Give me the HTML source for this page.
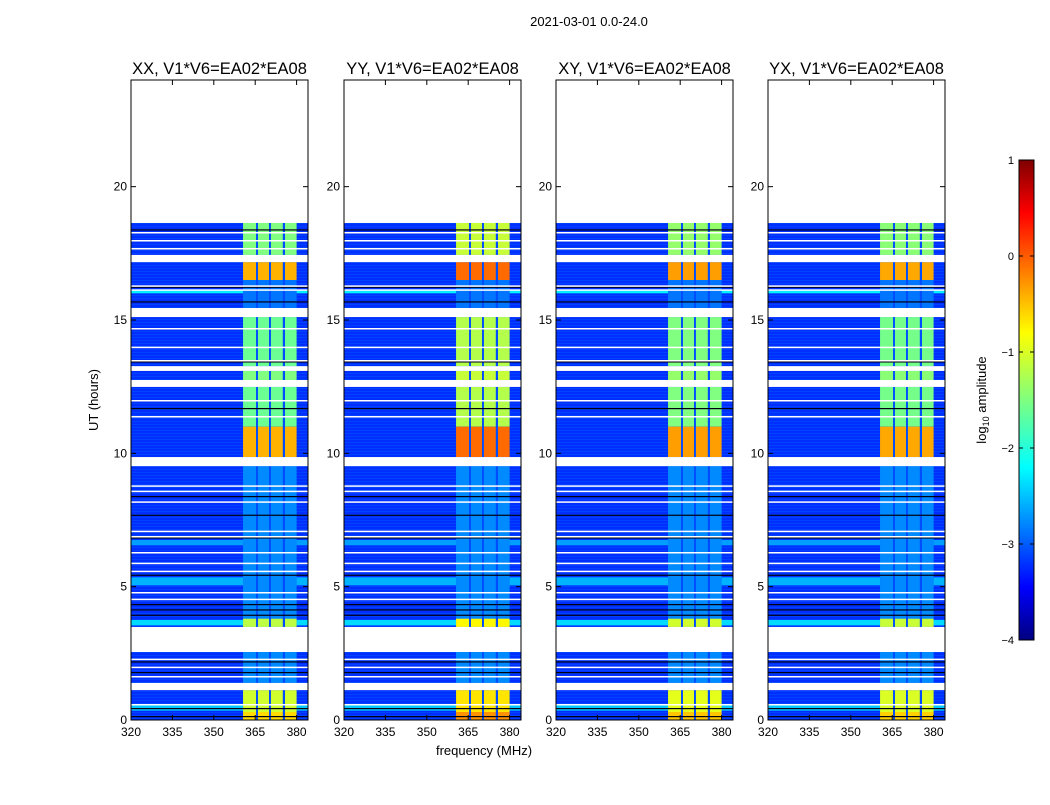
<!DOCTYPE html>
<html><head><meta charset="utf-8"><style>
body{margin:0;background:#fff;font-family:"Liberation Sans",sans-serif}
svg text{font-family:"Liberation Sans",sans-serif}
</style></head><body>
<svg id="c" width="1050" height="800" xmlns="http://www.w3.org/2000/svg">
<defs><linearGradient id="jet" x1="0" y1="1" x2="0" y2="0">
<stop offset="0" stop-color="#00007f"/><stop offset="0.11" stop-color="#0000ff"/><stop offset="0.36" stop-color="#00ffff"/><stop offset="0.5" stop-color="#7fff7f"/><stop offset="0.64" stop-color="#ffff00"/><stop offset="0.89" stop-color="#ff0000"/><stop offset="1" stop-color="#7f0000"/></linearGradient></defs>
<text x="589" y="26" font-size="13" text-anchor="middle">2021-03-01 0.0-24.0</text>
<g id="panels"></g>
<text x="98" y="400" font-size="13" text-anchor="middle" transform="rotate(-90 98 400)">UT (hours)</text>
<text x="484" y="755" font-size="13" text-anchor="middle">frequency (MHz)</text>
<rect x="1019" y="160" width="15" height="480" fill="url(#jet)" stroke="#000"/>
<g id="cbticks" font-size="11"></g>
<text x="986" y="400" font-size="13" text-anchor="middle" transform="rotate(-90 986 400)">log<tspan font-size="9" dy="3">10</tspan><tspan dy="-3"> amplitude</tspan></text>
</svg>
<script>
const panelTitles=["XX, V1*V6=EA02*EA08","YY, V1*V6=EA02*EA08","XY, V1*V6=EA02*EA08","YX, V1*V6=EA02*EA08"];
const bandOffset=[0,0.35,0.1,0.05];
const bgLevel=-3.15;
const segments=[[17.44,18.64,-1.5],[16.5,17.17,-0.5],[15.45,16.5,-2.8],[13.27,15.11,-1.6],[12.75,13.09,-1.5],[11.0,12.49,-1.6],[9.86,11.0,-0.5],[3.8,9.52,-2.7],[3.49,3.8,-1.2],[1.39,2.55,-2.7],[0.3,1.12,-1.1],[0,0.3,-0.7]];
const stripes=[[5.05,5.35,-2.5],[6.55,6.75,-2.6],[3.55,3.75,-2.3],[0.35,0.6,-2.4],[1.15,1.35,-2.5],[12.6,12.72,-1.8],[16.0,16.1,-2.2]];
const gaps=[[18.64,24],[17.17,17.44],[15.11,15.45],[13.09,13.27],[12.49,12.75],[9.52,9.86],[2.55,3.49],[1.12,1.39]];
const whiteLines=[18.3,18.0,17.7,16.3,16.15,14.7,14.0,13.5,12.0,11.4,8.8,8.6,8.2,7.1,6.9,6.3,5.9,5.6,4.8,4.55,2.3,2.0,1.65,0.6];
const darkLines=[18.4,16.25,15.7,13.45,11.7,8.4,7.7,6.85,5.45,4.35,4.15,3.95,2.2,1.8,0.45,0.15];
const subbands=[[360.6,365.3],[366,370],[370.7,375],[375.8,380]];
const xTicks=[320,335,350,365,380];
const yTicks=[0,5,10,15,20];
const cbTicks=[1,0,-1,-2,-3,-4];
const lefts=[131,344,556,768],W=177,T0=80,B0=720;
const NS="http://www.w3.org/2000/svg";
function jet(v){let t=Math.max(0,Math.min(1,(v+4)/5));const c=x=>Math.round(255*Math.max(0,Math.min(1,1.5-Math.abs(4*t-x))));return `rgb(${c(3)},${c(2)},${c(1)})`;}
function yS(h){return B0-(h/24)*(B0-T0);}
function mk(tag,at,parent){const e=document.createElementNS(NS,tag);for(const k in at)e.setAttribute(k,at[k]);parent.appendChild(e);return e;}
const P=document.getElementById('panels');
lefts.forEach((L,pi)=>{
 const xS=f=>L+(f-320)*2.76;
 const g=mk('g',{},P);
 
 
 let r=mk('rect',{x:L,y:yS(18.64),width:W,height:yS(0)-yS(18.64),fill:jet(bgLevel)},g);
 
 
 // light texture rows
 for(let y=yS(18.64);y<yS(0);y+=3){mk('rect',{x:L,y:y,width:W,height:1,fill:jet(-2.95),opacity:0.5},g);}
 stripes.forEach(s=>{const e=mk('rect',{x:L,y:yS(s[1]),width:W,height:yS(s[0])-yS(s[1]),fill:jet(s[2])},g);
  
  });
 segments.forEach(s=>{
  const e0=mk('rect',{x:xS(subbands[0][0]),y:yS(s[1]),width:xS(subbands[3][1])-xS(subbands[0][0]),height:yS(s[0])-yS(s[1]),fill:jet(-3.0)},g);
  
  
  subbands.forEach(b=>{const e=mk('rect',{x:xS(b[0]),y:yS(s[1]),width:xS(b[1])-xS(b[0]),height:yS(s[0])-yS(s[1]),fill:jet(s[2]+(s[2]>-2?bandOffset[pi]:0))},g);
  
  });});
 darkLines.forEach(h=>{const e=mk('rect',{x:L,y:yS(h),width:W,height:1.2,fill:'#001'},g);
  
  });
 whiteLines.forEach(h=>{const e=mk('rect',{x:L,y:yS(h),width:W,height:1.5,fill:'#fff'},g);
  
  });
 gaps.forEach(s=>{const e=mk('rect',{x:L,y:yS(s[1]),width:W,height:yS(s[0])-yS(s[1]),fill:'#fff'},g);
  
  });
 mk('rect',{x:L,y:T0,width:W,height:B0-T0,fill:'none',stroke:'#000','stroke-width':1},g);
 const t=mk('text',{x:L+W/2,y:74,'font-size':16.5,'text-anchor':'middle'},g);t.textContent=panelTitles[pi];
 
 
 xTicks.forEach(f=>{const x=xS(f);mk('line',{x1:x,x2:x,y1:B0,y2:B0-5,stroke:'#000'},g);mk('line',{x1:x,x2:x,y1:T0,y2:T0+5,stroke:'#000'},g);
  const e=mk('text',{x:x,y:B0+16,'font-size':12,'text-anchor':'middle'},g);e.textContent=f;
  
  });
 yTicks.forEach(h=>{const y=yS(h);mk('line',{x1:L,x2:L+5,y1:y,y2:y,stroke:'#000'},g);mk('line',{x1:L+W,x2:L+W-5,y1:y,y2:y,stroke:'#000'},g);
  const e=mk('text',{x:L-4,y:y+4,'font-size':12,'text-anchor':'end'},g);e.textContent=h;
  
  });
});
const CB=document.getElementById('cbticks');
cbTicks.forEach(v=>{const y=640-(v+4)/5*480;mk('line',{x1:1019,x2:1023,y1:y,y2:y,stroke:'#000'},CB);mk('line',{x1:1034,x2:1030,y1:y,y2:y,stroke:'#000'},CB);
 const e=mk('text',{x:1014,y:y+4,'text-anchor':'end'},CB);e.textContent=v<0?'\u2212'+(-v):v;
 
 });
</script>
</body></html>
